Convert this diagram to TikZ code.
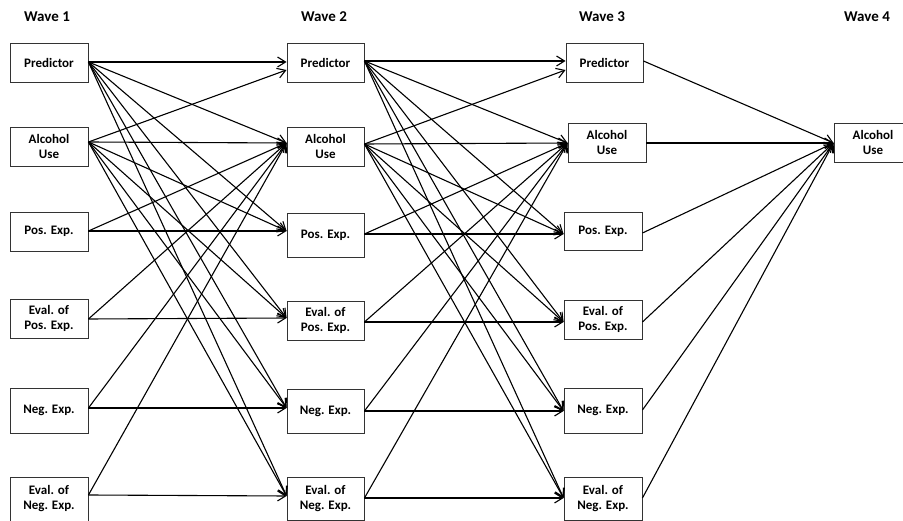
\documentclass[tikz,border=0pt]{standalone}
\usepackage{fontspec}
\setmainfont{Carlito}
\usetikzlibrary{arrows.meta}
\begin{document}
\begin{tikzpicture}[x=1pt,y=-1pt,
  box/.style={draw=black!80, line width=0.9pt, inner sep=0pt, align=center,
    font=\bfseries\fontsize{13}{15}\selectfont},
  hdr/.style={inner sep=0pt, font=\bfseries\fontsize{15}{18}\selectfont},
  arr/.style={-{Straight Barb[length=8pt,width=10pt]}, line width=1.1pt, black}]
\useasboundingbox (0,0) rectangle (903,521);
\clip (0,0) rectangle (903,521);
% headers
\node[hdr] (w1) at (47,17) {Wave 1};
\node[hdr] (w2) at (324,17) {Wave 2};
\node[hdr] (w3) at (602,17) {Wave 3};
\node[hdr] (w4) at (867,17) {Wave 4};
% wave 1
\node[box, minimum width=78pt, minimum height=39pt] (P1) at (49,62.5) {Predictor};
\node[box, minimum width=78pt, minimum height=39pt] (A1) at (49,146.5) {Alcohol\\Use};
\node[box, minimum width=78pt, minimum height=39pt] (PE1) at (49,231.5) {Pos. Exp.};
\node[box, minimum width=78pt, minimum height=39pt] (EP1) at (49,318.5) {Eval. of\\Pos. Exp.};
\node[box, minimum width=78pt, minimum height=45pt] (NE1) at (49,410.5) {Neg. Exp.};
\node[box, minimum width=78pt, minimum height=44pt] (EN1) at (49,499) {Eval. of\\Neg. Exp.};
% wave 2
\node[box, minimum width=77pt, minimum height=39pt] (P2) at (325.5,62.5) {Predictor};
\node[box, minimum width=77pt, minimum height=39pt] (A2) at (325.5,146.5) {Alcohol\\Use};
\node[box, minimum width=77pt, minimum height=44pt] (PE2) at (325.5,235) {Pos. Exp.};
\node[box, minimum width=77pt, minimum height=39pt] (EP2) at (325.5,320.5) {Eval. of\\Pos. Exp.};
\node[box, minimum width=77pt, minimum height=44pt] (NE2) at (325.5,411) {Neg. Exp.};
\node[box, minimum width=77pt, minimum height=43pt] (EN2) at (325.5,498.5) {Eval. of\\Neg. Exp.};
% wave 3
\node[box, minimum width=77pt, minimum height=39pt] (P3) at (604.5,62.5) {Predictor};
\node[box, minimum width=78pt, minimum height=39pt] (A3) at (607,142.5) {Alcohol\\Use};
\node[box, minimum width=78pt, minimum height=38pt] (PE3) at (603,231) {Pos. Exp.};
\node[box, minimum width=78pt, minimum height=39pt] (EP3) at (603,319.5) {Eval. of\\Pos. Exp.};
\node[box, minimum width=78pt, minimum height=45pt] (NE3) at (603,410.5) {Neg. Exp.};
\node[box, minimum width=78pt, minimum height=43pt] (EN3) at (603,498.5) {Eval. of\\Neg. Exp.};
% wave 4
\node[box, minimum width=78pt, minimum height=39pt] (A4) at (873,142.5) {Alcohol\\Use};
% out points
\coordinate (oP1) at (P1.east |- 0,62);
\coordinate (oA1) at (A1.east |- 0,142);
\coordinate (oPE1) at (PE1.east |- 0,231);
\coordinate (oEP1) at (EP1.east |- 0,319);
\coordinate (oNE1) at (NE1.east |- 0,408);
\coordinate (oEN1) at (EN1.east |- 0,495);
\coordinate (oP2) at (P2.east |- 0,61);
\coordinate (oA2) at (A2.east |- 0,144);
\coordinate (oPE2) at (PE2.east |- 0,234);
\coordinate (oEP2) at (EP2.east |- 0,322);
\coordinate (oNE2) at (NE2.east |- 0,411);
\coordinate (oEN2) at (EN2.east |- 0,498);
\coordinate (oP3) at (P3.east |- 0,61);
\coordinate (oA3) at (A3.east |- 0,143);
\coordinate (oPE3) at (PE3.east |- 0,233);
\coordinate (oEP3) at (EP3.east |- 0,322);
\coordinate (oNE3) at (NE3.east |- 0,410);
\coordinate (oEN3) at (EN3.east |- 0,498);
% in points
\coordinate (iP2) at (P2.west |- 0,62);
\coordinate (iPx2) at (P2.west |- 0,70);
\coordinate (iA2) at (A2.west |- 0,143);
\coordinate (iPE2) at (PE2.west |- 0,231);
\coordinate (iEP2) at (EP2.west |- 0,318);
\coordinate (iNE2) at (NE2.west |- 0,408);
\coordinate (iEN2) at (EN2.west |- 0,496);
\coordinate (iP3) at (P3.west |- 0,61);
\coordinate (iPx3) at (P3.west |- 0,70);
\coordinate (iA3) at (A3.west |- 0,143);
\coordinate (iPE3) at (PE3.west |- 0,234);
\coordinate (iEP3) at (EP3.west |- 0,322);
\coordinate (iNE3) at (NE3.west |- 0,411);
\coordinate (iEN3) at (EN3.west |- 0,498);
\coordinate (iA4) at (A4.west |- 0,143);
% connectors
\foreach \t/\u in {1/2, 2/3} {
  \draw[arr] (oP\t) -- (iP\u);
  \foreach \n in {A,PE,EP,NE,EN} \draw[arr] (oP\t) -- (i\n\u);
  \draw[arr] (oA\t) -- (iPx\u);
  \foreach \n in {A,PE,EP,NE,EN} \draw[arr] (oA\t) -- (i\n\u);
  \foreach \n in {PE,EP,NE,EN} {
    \draw[arr] (o\n\t) -- (iA\u);
    \draw[arr] (o\n\t) -- (i\n\u);
  }
}
\foreach \n in {P,A,PE,EP,NE,EN} \draw[arr] (o\n3) -- (iA4);
\end{tikzpicture}
\end{document}
